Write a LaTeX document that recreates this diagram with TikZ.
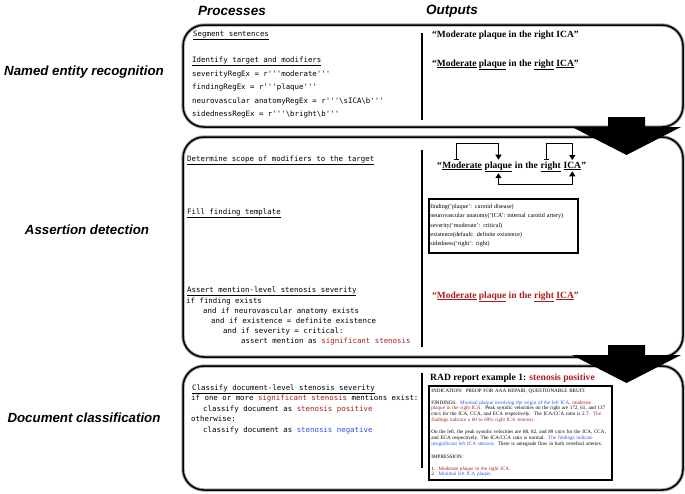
\documentclass[tikz,border=0pt]{standalone}
\usepackage{fontspec}
\setmainfont{Liberation Serif}
\setsansfont{Liberation Sans}
\setmonofont{DejaVu Sans Mono}
\usepackage{xcolor}
\usetikzlibrary{arrows.meta,positioning,calc}
\definecolor{stRed}{RGB}{170,30,32}
\definecolor{stBlue}{RGB}{45,80,235}
\definecolor{panelShade}{RGB}{165,165,165}
\newcommand{\uw}[1]{\underline{#1}}

\begin{document}
\begin{tikzpicture}[x=1pt, y=-1pt,
  stage/.style={font=\sffamily\bfseries\itshape\fontsize{13.3}{15}\selectfont},
  colhead/.style={font=\sffamily\bfseries\itshape\fontsize{13.5}{15}\selectfont},
  panel/.style={draw, line width=1.5pt, rounded corners=21pt, preaction={draw=panelShade, line width=3.4pt}},
  code/.style={font=\ttfamily\fontsize{7.4}{10}\selectfont, anchor=base west, inner sep=0pt},
  quote/.style={font=\bfseries\fontsize{9.5}{11}\selectfont, anchor=base west, inner sep=0pt},
  sep/.style={line width=1.6pt},
  tmpl/.style={draw, line width=1.8pt, anchor=north west, font=\fontsize{6.1}{9.3}\selectfont, align=left, text width=146pt, inner xsep=1.5pt, inner ysep=5.5pt},
  report/.style={draw, line width=1.8pt, anchor=north west, font=\fontsize{5.12}{5.9}\selectfont, align=left, text width=178pt, inner xsep=2.5pt, inner ysep=3pt},
  modto/.style={{Bar[width=5pt,line width=1.2pt]}-{Triangle[length=5pt,width=6pt]}, line width=1.2pt},
  relto/.style={{Triangle[length=5pt,width=6pt]}-{Triangle[length=5pt,width=6pt]}, line width=1.2pt}
]
\useasboundingbox (0,0) rectangle (685,493);

% column heads and stages
\node[colhead] (hProc) at (232,11) {Processes};
\node[colhead] (hOut) at (452,11) {Outputs};
\node[stage] (lblNer) at (84,72) {Named entity recognition};
\node[stage] (lblAst) at (87,230) {Assertion detection};
\node[stage] (lblDoc) at (84,418) {Document classification};

\node[panel, minimum width=500pt, minimum height=102pt] (ner) at (433,76) {};
\node[panel, minimum width=500pt, minimum height=220pt] (ast) at (433,247) {};
\node[panel, minimum width=500pt, minimum height=124pt] (doc) at (433,428) {};
\draw[sep] (422,33) -- (422,120);
\draw[sep] (422,150) -- (422,347);
\draw[sep] (422,373) -- (422,468);

% named entity recognition
\node[code] (segT) at (193,36) {\uw{Segment sentences}};
\node[code] (idT) at (192,62) {\uw{Identify target and modifiers}};
\foreach \t [count=\k from 0] in {{severityRegEx = r'''moderate'''},
    {findingRegEx = r'''plaque'''},
    {neurovascular anatomyRegEx = r'''\textbackslash sICA\textbackslash b'''},
    {sidednessRegEx = r'''\textbackslash bright\textbackslash b'''}}
  \node[code] (rx\k) at (192,{76+13.6*\k}) {\t};
\node[quote] (sent) at (432,37) {“Moderate plaque in the right ICA”};
\node[quote] (tagged) at (432,66) {“\uw{Moderate} \uw{plaque} in the \uw{right} \uw{ICA}”};

% assertion detection
\node[code] (scopeT) at (187,161) {\uw{Determine scope of modifiers to the target}};
\node[code] (fillT) at (187,214) {\uw{Fill finding template}};
\node[code] (assertT) at (187,292) {\uw{Assert mention-level stenosis severity}};
\foreach \x/\y/\t in {186/303/{if finding exists},
    203/313/{and if neurovascular anatomy exists},
    211/323/{and if existence = definite existence},
    223/333/{and if severity = critical:},
    241/343/{assert mention as \textcolor{stRed}{significant stenosis}}}
  \node[code] (cond\y) at (\x,\y) {\t};

\node[quote] (qOpen) at (437,168) {“};
\node[quote] (wMod) at (qOpen.base east) {\uw{Moderate}};
\node[quote] (wPlq) at ([xshift=2.4pt]wMod.base east) {\uw{plaque}};
\node[quote] (wMid) at ([xshift=2.4pt]wPlq.base east) {in the};
\node[quote] (wRgt) at ([xshift=2.4pt]wMid.base east) {\uw{right}};
\node[quote] (wIca) at ([xshift=2.4pt]wRgt.base east) {\uw{ICA}};
\node[quote] (qClose) at (wIca.base east) {”};
\draw[modto, shorten <=1.5pt, shorten >=1.5pt] ([xshift=-6pt]wMod.north) -- ++(0,-18) -| (wPlq.north);
\draw[modto, shorten <=1.5pt, shorten >=1.5pt] ([xshift=-4pt]wRgt.north) -- ++(0,-18) -| (wIca.north);
\draw[relto, shorten <=1pt, shorten >=1pt] (wPlq.south) -- ++(0,12) -| (wIca.south);

\node[tmpl] (template) at (428,198) {finding(‘plaque’: carotid disease)\\
  neurovascular anatomy(‘ICA’: internal carotid artery)\\
  severity(‘moderate’: critical)\\
  existence(default: definite existence)\\
  sidedness(‘right’: right)};
\node[quote, text=stRed] (asserted) at (432,298) {“\uw{Moderate} \uw{plaque} in the \uw{right} \uw{ICA}”};

% document classification
\node[code] (clsT) at (192,390) {\uw{Classify document-level stenosis severity}};
\foreach \x/\y/\t in {191/400.5/{if one or more \textcolor{stRed}{significant stenosis} mentions exist:},
    203/411/{classify document as \textcolor{stRed}{stenosis positive}},
    191/421.5/{otherwise:},
    203/432/{classify document as \textcolor{stBlue}{stenosis negative}}}
  \node[code] at (\x,\y) {\t};

\node[quote, font=\bfseries\fontsize{9.6}{11}\selectfont] (radT) at (430,380) {RAD report example 1: \textcolor{stRed}{stenosis positive}};
\node[report] (rad) at (428,385) {INDICATION:\ \ PREOP FOR AAA REPAIR, QUESTIONABLE BRUIT.\\[5.9pt]
  FINDINGS:\ \ \textcolor{stBlue}{Minimal plaque involving the origin of the left ICA}, \textcolor{stRed}{moderate}\\
  \textcolor{stRed}{plaque in the right ICA.}\ \ Peak systolic velocities on the right are 172, 61, and 137\\
  cm/s for the ICA, CCA, and ECA respectively.\ \ The ICA/CCA ratio is 2.7.\ \ \textcolor{stRed}{The}\\
  \textcolor{stRed}{findings indicate a 60 to 69\% right ICA stenosis.}\\[5.9pt]
  On the left, the peak systolic velocities are 88, 82, and 89 cm/s for the ICA, CCA,\\
  and ECA respectively. The ICA/CCA ratio is normal.\ \ \textcolor{stBlue}{The findings indicate}\\
  \textcolor{stBlue}{insignificant left ICA stenosis.} There is antegrade flow in both vertebral arteries.\\[7pt]
  IMPRESSION:\\[5.9pt]
  1.\ \ \textcolor{stRed}{Moderate plaque in the right ICA.}\\
  2.\ \ \textcolor{stBlue}{Minimal left ICA plaque.}};

% flow between stages
\foreach \yy in {117,345}
  \fill (608,\yy) -- (645,\yy) -- (645,{\yy+10}) -- (681,{\yy+10}) -- (626.5,{\yy+38}) -- (572,{\yy+10}) -- (608,{\yy+10}) -- cycle;
\end{tikzpicture}
\end{document}
